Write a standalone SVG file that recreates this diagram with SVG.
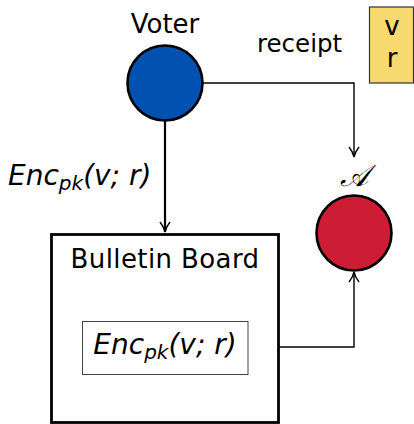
<svg xmlns="http://www.w3.org/2000/svg" width="414" height="424" viewBox="0 0 414 424">
  <style>
    .lbl { font-family: "DejaVu Sans", "Liberation Sans", sans-serif; fill: #000; }
    .math { font-family: "DejaVu Sans", "Liberation Sans", sans-serif; font-style: italic; fill: #000; }
    .cal { font-family: "DejaVu Serif", "Liberation Serif", serif; font-style: italic; fill: #000; }
    .conn { fill: none; stroke: #000; }
  </style>
  <defs>
    <marker id="arrow" viewBox="0 0 12 12" refX="11" refY="6" markerWidth="12" markerHeight="12" markerUnits="userSpaceOnUse" orient="auto">
      <path d="M1,1 Q6,5 11,6 Q6,7 1,11" fill="none" stroke="#000" stroke-width="1.4"/>
    </marker>
  </defs>

  <!-- connectors -->
  <g id="connectors">
    <path class="conn" d="M165,121 V232" stroke-width="2.2" marker-end="url(#arrow)"/>
    <path class="conn" d="M203,83 H354 V157" stroke-width="1.4" marker-end="url(#arrow)"/>
    <path class="conn" d="M249,347 H354 V272" stroke-width="1.4" marker-end="url(#arrow)"/>
    <text class="math" x="8" y="185" font-size="28">Enc<tspan font-size="20" dy="5">pk</tspan><tspan dy="-5">(v; r)</tspan></text>
    <text class="lbl" x="257" y="52" font-size="24.5">receipt</text>
  </g>

  <!-- voter -->
  <g id="voter">
    <circle cx="165" cy="83" r="37.5" fill="#0051B0" stroke="#000" stroke-width="2.6"/>
    <text class="lbl" x="165" y="33" font-size="26" text-anchor="middle">Voter</text>
  </g>

  <!-- receipt contents -->
  <g id="receipt">
    <rect x="369.5" y="7" width="44" height="76" fill="#F8D96F" stroke="#333" stroke-width="1.2"/>
    <text class="lbl" x="392" y="35" font-size="26" text-anchor="middle">v</text>
    <text class="lbl" x="392" y="67" font-size="26" text-anchor="middle">r</text>
  </g>

  <!-- adversary -->
  <g id="adversary">
    <circle cx="354" cy="233" r="37.5" fill="#CC1D34" stroke="#000" stroke-width="2.6"/>
    <text class="cal" x="354" y="186" font-size="30" text-anchor="middle">𝒜</text>
  </g>

  <!-- bulletin board -->
  <g id="bulletin-board">
    <rect x="51.5" y="234.5" width="227" height="188" fill="#fff" stroke="#000" stroke-width="2.8"/>
    <text class="lbl" x="165" y="268" font-size="26" text-anchor="middle" letter-spacing="0.4">Bulletin Board</text>
  </g>

  <!-- stored ciphertext -->
  <g id="ciphertext">
    <rect x="82.5" y="321.5" width="165.5" height="53" fill="#fff" stroke="#444" stroke-width="1"/>
    <text class="math" x="165" y="354" font-size="28" text-anchor="middle">Enc<tspan font-size="20" dy="5">pk</tspan><tspan dy="-5">(v; r)</tspan></text>
  </g>
</svg>
